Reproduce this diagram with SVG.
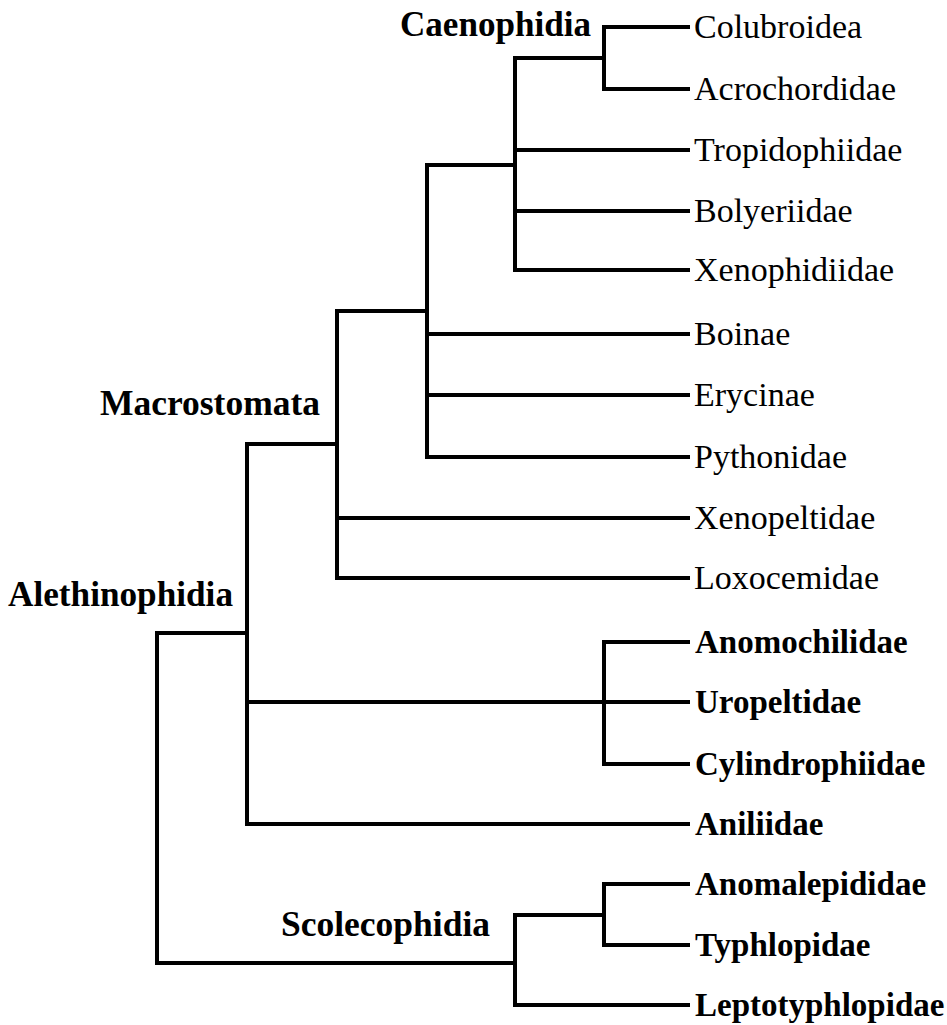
<svg xmlns="http://www.w3.org/2000/svg" width="947" height="1025" viewBox="0 0 947 1025">
<style>
.e{stroke:#000;stroke-width:4;fill:none;stroke-linecap:square}
.t{font-family:"Liberation Serif","Times New Roman",serif;font-size:34px;fill:#000}
.b{font-family:"Liberation Serif","Times New Roman",serif;font-size:33px;font-weight:bold;fill:#000}
.c{font-family:"Liberation Serif","Times New Roman",serif;font-size:35px;font-weight:bold;fill:#000}
</style>
<rect width="947" height="1025" fill="#fff"/>
<g id="connectors">
<path class="e" d="M604,27V89M604,27H688M604,89H688"/>
<path class="e" d="M515,58H604M515,58V270M515,150H688M515,211H688M515,270H688"/>
<path class="e" d="M427,165H515M427,165V457M427,334H688M427,395H688M427,457H688"/>
<path class="e" d="M337,311H427M337,311V578M337,518H688M337,578H688"/>
<path class="e" d="M247,444H337M247,444V824M247,702H688M247,824H688"/>
<path class="e" d="M604,642V764M604,642H688M604,764H688"/>
<path class="e" d="M157,633H247M157,633V963M157,963H515"/>
<path class="e" d="M515,915V1005M515,1005H688M515,915H604M604,884V945M604,884H688M604,945H688"/>
</g>
<g id="clade-labels">
<text id="Caenophidia" class="c" x="400" y="36" textLength="191" lengthAdjust="spacingAndGlyphs">Caenophidia</text>
<text id="Macrostomata" class="c" x="100" y="415" textLength="220" lengthAdjust="spacingAndGlyphs">Macrostomata</text>
<text id="Alethinophidia" class="c" x="8" y="606" textLength="225" lengthAdjust="spacingAndGlyphs">Alethinophidia</text>
<text id="Scolecophidia" class="c" x="281" y="936" textLength="209" lengthAdjust="spacingAndGlyphs">Scolecophidia</text>
</g>
<g id="Colubroidea"><text class="t" x="694" y="38">Colubroidea</text></g>
<g id="Acrochordidae"><text class="t" x="694" y="100">Acrochordidae</text></g>
<g id="Tropidophiidae"><text class="t" x="694" y="161">Tropidophiidae</text></g>
<g id="Bolyeriidae"><text class="t" x="694" y="222">Bolyeriidae</text></g>
<g id="Xenophidiidae"><text class="t" x="694" y="281">Xenophidiidae</text></g>
<g id="Boinae"><text class="t" x="694" y="345">Boinae</text></g>
<g id="Erycinae"><text class="t" x="694" y="406">Erycinae</text></g>
<g id="Pythonidae"><text class="t" x="694" y="468">Pythonidae</text></g>
<g id="Xenopeltidae"><text class="t" x="694" y="529">Xenopeltidae</text></g>
<g id="Loxocemidae"><text class="t" x="694" y="589">Loxocemidae</text></g>
<g id="Anomochilidae"><text class="b" x="695" y="653">Anomochilidae</text></g>
<g id="Uropeltidae"><text class="b" x="695" y="713">Uropeltidae</text></g>
<g id="Cylindrophiidae"><text class="b" x="695" y="775">Cylindrophiidae</text></g>
<g id="Aniliidae"><text class="b" x="695" y="835">Aniliidae</text></g>
<g id="Anomalepididae"><text class="b" x="695" y="895">Anomalepididae</text></g>
<g id="Typhlopidae"><text class="b" x="695" y="956">Typhlopidae</text></g>
<g id="Leptotyphlopidae"><text class="b" x="695" y="1016">Leptotyphlopidae</text></g>
</svg>
